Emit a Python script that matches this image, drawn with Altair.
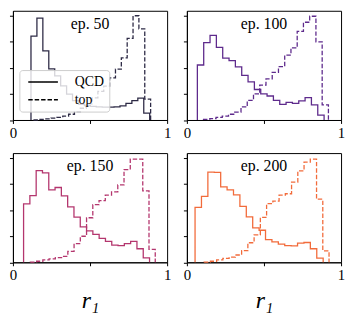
import altair as alt
import numpy as np
import pandas as pd

labels = ["ep.  50", "ep.  100", "ep.  150", "ep.  200"]
colors = ["#2d2a45", "#5e2a8c", "#b4366e", "#f26b3b"]

qcd_start = [0.117, 0.068, 0.069, 0.053]
qcd_end = [0.887, 0.890, 0.886, 0.884]
top_start = [0.133, 0.108, 0.113, 0.112]
top_end = [0.893, 0.918, 0.923, 0.922]

qcd_vals = [
    [3.22, 3.91, 2.65, 1.96, 1.69, 1.31, 0.99, 0.74, 0.6, 0.55, 0.52, 0.5, 0.49, 0.49, 0.5, 0.54, 0.64, 0.74, 0.84, 0.26],
    [2.11, 2.97, 3.25, 2.79, 2.37, 2.28, 2.04, 1.71, 1.46, 1.17, 1.0, 0.92, 0.75, 0.6, 0.68, 0.64, 0.73, 0.86, 0.58, 0.19],
    [2.24, 2.56, 3.52, 3.43, 2.78, 2.87, 2.55, 2.13, 1.73, 1.36, 1.21, 1.07, 0.92, 0.8, 0.66, 0.64, 0.72, 0.8, 0.52, 0.17],
    [2.11, 2.53, 3.46, 3.45, 2.89, 2.78, 2.59, 2.15, 1.74, 1.32, 1.23, 0.87, 0.78, 0.7, 0.64, 0.63, 0.74, 0.76, 0.52, 0.16],
]
top_vals = [
    [0.0, 0.02, 0.04, 0.07, 0.1, 0.15, 0.22, 0.32, 0.45, 0.62, 0.85, 1.1, 1.3, 1.62, 1.95, 2.38, 3.13, 4.0, 3.5, 0.8],
    [0.02, 0.05, 0.1, 0.15, 0.22, 0.3, 0.5, 0.75, 1.0, 1.34, 1.58, 1.83, 2.05, 2.49, 2.77, 3.4, 3.75, 3.98, 3.0, 0.58],
    [0.01, 0.04, 0.09, 0.13, 0.18, 0.23, 0.42, 0.72, 1.0, 1.71, 2.21, 2.37, 2.58, 2.7, 2.97, 3.56, 3.96, 3.96, 2.74, 0.5],
    [0.01, 0.04, 0.09, 0.15, 0.2, 0.28, 0.45, 0.75, 1.05, 1.72, 2.25, 2.35, 2.58, 2.63, 3.08, 3.51, 3.84, 3.96, 2.42, 0.44],
]

SERIF = "Liberation Serif"


def step_rows(cls, start, end, vals):
    edges = np.linspace(start, end, len(vals) + 1)
    rows = [{"cls": cls, "r": edges[0], "d": 0.0, "i": 0}]
    for k, v in enumerate(vals):
        rows.append({"cls": cls, "r": edges[k], "d": v, "i": k + 1})
    rows.append({"cls": cls, "r": edges[-1], "d": 0.0, "i": len(vals) + 1})
    return rows


def panel(idx, show_legend, show_title):
    df = pd.DataFrame(
        step_rows("QCD", qcd_start[idx], qcd_end[idx], qcd_vals[idx])
        + step_rows("top", top_start[idx], top_end[idx], top_vals[idx])
    )
    if show_legend:
        leg = alt.Legend(
            orient="none", legendX=6.5, legendY=60, title=None,
            symbolType="M-5,0H5", symbolSize=36, symbolOffset=12,
            symbolStrokeWidth=1.4, symbolStrokeColor="black",
            labelFont=SERIF, labelFontSize=14, labelColor="black",
            labelOffset=25, rowPadding=4,
            fillColor="rgba(255,255,255,0.8)", strokeColor="#cccccc",
            cornerRadius=3, padding=5,
        )
    else:
        leg = None
    xaxis = alt.Axis(
        values=[0, 0.5, 1],
        labelExpr="datum.value == 0 ? '0' : (datum.value == 1 ? '1' : '')",
        labelFlush=False, grid=False, tickSize=3.5, labelPadding=2,
        labelFont=SERIF, labelFontSize=15, labelColor="black",
        domainColor="black", tickColor="black",
        title="r₁" if show_title else "",
        titleFont=SERIF, titleFontSize=24, titleFontStyle="italic",
        titleFontWeight="normal", titleColor="black", titlePadding=6,
    )
    lines = alt.Chart(df).mark_line(
        interpolate="step-after", strokeWidth=1.3, color=colors[idx]
    ).encode(
        x=alt.X("r:Q", scale=alt.Scale(domain=[0, 1], nice=False, zero=False), axis=xaxis),
        y=alt.Y("d:Q", scale=alt.Scale(domain=[0, 4.19], nice=False),
                axis=alt.Axis(values=[0, 1, 2, 3, 4], labels=False, title=None, grid=False,
                              tickSize=3.5, domainColor="black", tickColor="black")),
        strokeDash=alt.StrokeDash("cls:N", scale=alt.Scale(domain=["QCD", "top"], range=[[1, 0], [4.5, 2]]),
                                  legend=leg),
        order=alt.Order("i:Q"),
    )
    txt = alt.Chart(pd.DataFrame({"t": [labels[idx]]})).mark_text(
        font=SERIF, fontSize=16, color="black", align="center", baseline="alphabetic"
    ).encode(x=alt.value(78), y=alt.value(18), text="t:N")
    return alt.layer(lines, txt).properties(width=156, height=110.5)


chart = alt.concat(
    panel(0, True, False), panel(1, False, False),
    panel(2, False, True), panel(3, False, True),
    columns=2, spacing={"row": 33, "column": 20}, bounds="flush",
).resolve_scale(strokeDash="independent").resolve_legend(strokeDash="independent") \
    .properties(padding=0, background="white") \
    .configure_view(stroke="black", strokeWidth=1)

chart.save("out.html", embed_options={"renderer": "svg", "actions": False})
